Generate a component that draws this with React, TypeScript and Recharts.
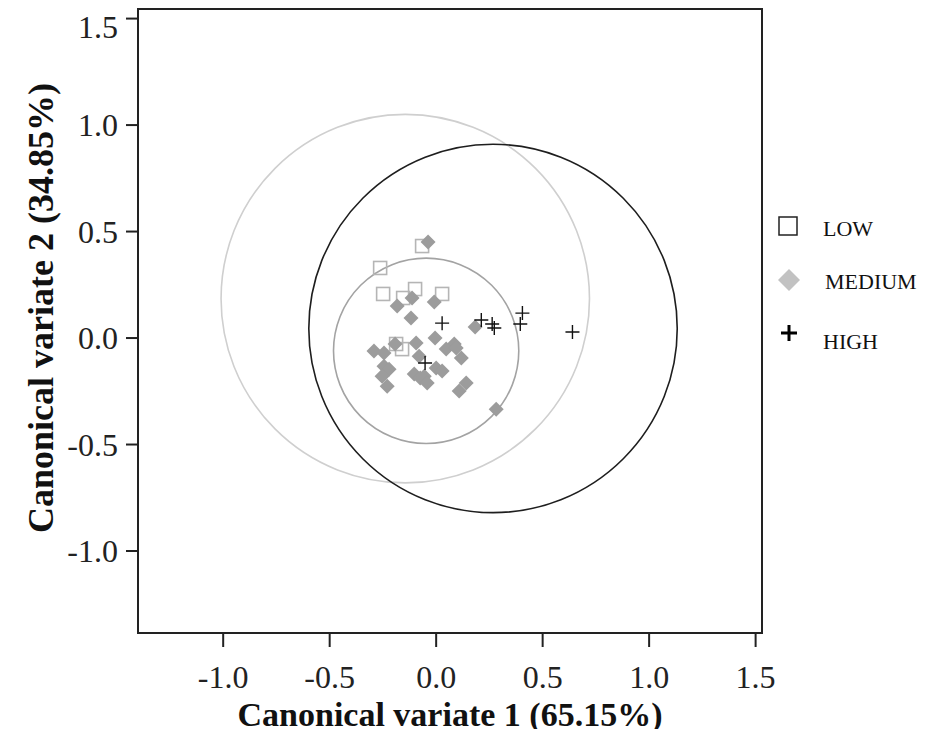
import React from "react";
import {
  ScatterChart,
  Scatter,
  XAxis,
  YAxis,
  ReferenceArea,
  Legend,
  Label,
} from "recharts";

// ---- data ----
const seriesNames = ["LOW", "MEDIUM", "HIGH"];

const lowX = [-0.066, -0.263, -0.249, -0.155, -0.099, 0.028, -0.188, -0.16];
const lowY = [0.432, 0.329, 0.207, 0.188, 0.23, 0.207, -0.028, -0.052];

const mediumX = [
  -0.038, -0.183, -0.113, -0.118, -0.009, 0.183, -0.005, 0.085, -0.094, -0.193,
  -0.292, -0.245, -0.08, -0.245, -0.221, -0.254, -0.23, -0.103, -0.075, 0.047,
  0.094, 0.118, 0.0, 0.028, -0.056, -0.042, 0.141, 0.108, 0.282,
];
const mediumY = [
  0.451, 0.15, 0.188, 0.094, 0.169, 0.052, 0.0, -0.028, -0.023, -0.028,
  -0.061, -0.07, -0.085, -0.132, -0.146, -0.179, -0.226, -0.169, -0.188, -0.052,
  -0.047, -0.094, -0.141, -0.155, -0.179, -0.211, -0.211, -0.249, -0.334,
];

const highX = [0.028, 0.212, 0.263, 0.273, 0.405, 0.395, 0.64, -0.052];
const highY = [0.07, 0.085, 0.066, 0.047, 0.117, 0.066, 0.028, -0.117];

// group circles: centre x, centre y, radius
const circleCX = [-0.145, -0.047, 0.267];
const circleCY = [0.185, -0.06, 0.045];
const circleR = [0.865, 0.435, 0.865];

const axisTicks = [-1.0, -0.5, 0.0, 0.5, 1.0, 1.5];
const xDomain = [-1.4, 1.53];
const yDomain = [-1.385, 1.545];

const xTitle = "Canonical variate 1 (65.15%)";
const yTitle = "Canonical variate 2 (34.85%)";

// ---- build ----
const zip = (xs: number[], ys: number[]) => xs.map((x, i) => ({ x, y: ys[i] }));
const lowData = zip(lowX, lowY);
const mediumData = zip(mediumX, mediumY);
const highData = zip(highX, highY);

const FONT = '"Liberation Serif", "Times New Roman", serif';
const circleColors = ["#cfcfcf", "#a3a3a3", "#1e1e1e"];
const lowColor = "#b5b5b5";
const mediumColor = "#9c9c9c";
const highColor = "#111";

const SquareShape = (p: any) => {
  const s = 6.5;
  return (
    <rect
      x={p.cx - s}
      y={p.cy - s}
      width={2 * s}
      height={2 * s}
      fill="none"
      stroke={lowColor}
      strokeWidth={1.6}
    />
  );
};

const DiamondShape = (p: any) => {
  const s = 7.5;
  const { cx, cy } = p;
  return (
    <path
      d={`M${cx},${cy - s}L${cx + s},${cy}L${cx},${cy + s}L${cx - s},${cy}Z`}
      fill={mediumColor}
    />
  );
};

const PlusShape = (p: any) => {
  const s = 7;
  const { cx, cy } = p;
  return (
    <path
      d={`M${cx - s},${cy}H${cx + s}M${cx},${cy - s}V${cy + s}`}
      stroke={highColor}
      strokeWidth={1.4}
      fill="none"
    />
  );
};

const makeEllipse = (color: string) => (p: any) => {
  const { x, y, width, height } = p;
  return (
    <ellipse
      cx={x + width / 2}
      cy={y + height / 2}
      rx={Math.abs(width) / 2}
      ry={Math.abs(height) / 2}
      fill="none"
      stroke={color}
      strokeWidth={1.6}
    />
  );
};

const LegendContent = () => (
  <svg width={150} height={150} style={{ display: "block" }}>
    <rect x={9} y={7} width={18} height={18} fill="#fff" stroke="#222" strokeWidth={1.5} />
    <text x={53} y={26} fontFamily={FONT} fontSize={22} fill="#111">
      {seriesNames[0]}
    </text>
    <path d="M19,59L30,70L19,81L8,70Z" fill="#c2c2c2" />
    <text x={55} y={79} fontFamily={FONT} fontSize={22} fill="#111">
      {seriesNames[1]}
    </text>
    <path d="M11,123H27M19,115V131" stroke="#000" strokeWidth={3} />
    <text x={53} y={139} fontFamily={FONT} fontSize={22} fill="#111">
      {seriesNames[2]}
    </text>
  </svg>
);

export default function App() {
  return (
    <div style={{ width: 913, height: 721 }}>
      <style>{`svg.recharts-surface { overflow: visible; }`}</style>
      <ScatterChart
        width={913}
        height={721}
        margin={{ top: 1, right: 159, bottom: 6, left: 10 }}
        style={{ fontFamily: FONT }}
      >
        <XAxis
          type="number"
          dataKey="x"
          domain={xDomain}
          ticks={axisTicks}
          allowDataOverflow
          tickFormatter={(v: number) => v.toFixed(1)}
          height={90}
          tickSize={14}
          tickMargin={18}
          axisLine={{ stroke: "#222", strokeWidth: 2 }}
          tickLine={{ stroke: "#222", strokeWidth: 2 }}
          tick={{ fontSize: 32, fill: "#222", fontFamily: FONT }}
        >
          <Label
            value={xTitle}
            position="insideBottom"
            offset={-3}
            style={{ fontSize: 34, fontWeight: "bold", fill: "#111", fontFamily: FONT }}
          />
        </XAxis>
        <YAxis
          type="number"
          dataKey="y"
          domain={yDomain}
          ticks={axisTicks}
          allowDataOverflow
          tickFormatter={(v: number) => v.toFixed(1)}
          width={120}
          tickSize={12}
          tickMargin={8}
          axisLine={{ stroke: "#222", strokeWidth: 2 }}
          tickLine={{ stroke: "#222", strokeWidth: 2 }}
          tick={{ fontSize: 32, fill: "#222", fontFamily: FONT }}
        >
          <Label
            value={yTitle}
            angle={-90}
            position="insideLeft"
            offset={22}
            dy={-13}
            style={{
              fontSize: 36,
              fontWeight: "bold",
              fill: "#111",
              fontFamily: FONT,
              textAnchor: "middle",
            }}
          />
        </YAxis>
        <ReferenceArea
          x1={xDomain[0]}
          x2={xDomain[1]}
          y1={yDomain[0]}
          y2={yDomain[1]}
          fill="none"
          stroke="#222"
          strokeWidth={2}
          fillOpacity={0}
          ifOverflow="visible"
        />
        {circleCX.map((cx, i) => (
          <ReferenceArea
            key={i}
            x1={cx - circleR[i]}
            x2={cx + circleR[i]}
            y1={circleCY[i] - circleR[i]}
            y2={circleCY[i] + circleR[i]}
            ifOverflow="visible"
            shape={makeEllipse(circleColors[i])}
          />
        ))}
        <Scatter name={seriesNames[0]} data={lowData} shape={SquareShape} isAnimationActive={false} />
        <Scatter name={seriesNames[1]} data={mediumData} shape={DiamondShape} isAnimationActive={false} />
        <Scatter name={seriesNames[2]} data={highData} shape={PlusShape} isAnimationActive={false} />
        <Legend
          layout="horizontal"
          verticalAlign="middle"
          align="center"
          content={<LegendContent />}
          wrapperStyle={{ position: "absolute", left: 762, top: 202, width: 150, height: 150 }}
        />
      </ScatterChart>
    </div>
  );
}
